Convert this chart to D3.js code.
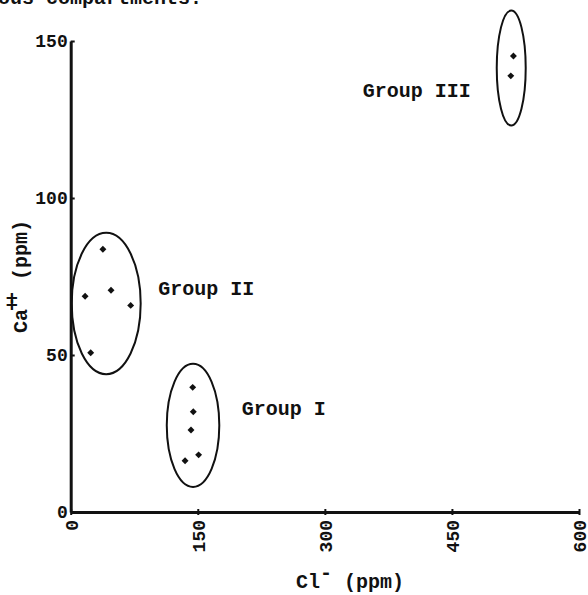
<!DOCTYPE html>
<html>
<head>
<meta charset="utf-8">
<script src="https://cdnjs.cloudflare.com/ajax/libs/d3/7.8.5/d3.min.js"></script>
<style>
  html, body { margin: 0; padding: 0; background: #fff; }
  svg { display: block; }
  text { font-family: "Liberation Mono", "Courier New", monospace; fill: #111; }
</style>
</head>
<body>
<svg id="chart" width="588" height="595"></svg>
<script>
// Chloride vs calcium concentrations, grouped by compartment
const groupNames = ["Group I", "Group II", "Group III"];

// Cl- (ppm) per sample, by group
const clGroupI   = [144, 144.7, 142, 151, 135];
const clGroupII  = [38, 17, 47.6, 70.8, 23.6];
const clGroupIII = [522.6, 519.5];

// Ca++ (ppm) per sample, by group
const caGroupI   = [39.7, 31.9, 26.1, 18.2, 16.3];
const caGroupII  = [83.7, 68.7, 70.6, 65.8, 50.7];
const caGroupIII = [145.2, 138.9];

// Grouping ellipses in data units: centre and half-extents
const ellipseCx = [144.4, 41.9, 520];
const ellipseCy = [27.6, 66.4, 141.4];
const ellipseRx = [31, 40.7, 17.1];
const ellipseRy = [19.6, 22.5, 18.3];

// Group label anchors in data units
const labelX = [202, 103.3, 344.7];
const labelY = [30.9, 69.1, 132.2];

// Axis ticks
const xTicks = [0, 150, 300, 450, 600];
const yTicks = [0, 50, 100, 150];

const svg = d3.select("#chart");

const x = d3.scaleLinear().domain([0, 600]).range([70.7, 579]);
const y = d3.scaleLinear().domain([0, 150]).range([512, 41]);

// Running text of the page above the figure (cut at the top edge)
svg.append("text")
  .attr("x", -2).attr("y", 4)
  .style("font-size", "20px").style("font-weight", "bold")
  .text("ous compartments.");

// Points
const samples = [];
[[clGroupI, caGroupI], [clGroupII, caGroupII], [clGroupIII, caGroupIII]].forEach(([xs, ys], g) => {
  xs.forEach((v, i) => samples.push({ group: g, cl: v, ca: ys[i] }));
});

const diamond = d3.symbol().type(d3.symbolSquare).size(24);
svg.append("g").selectAll("path")
  .data(samples)
  .join("path")
  .attr("d", diamond)
  .attr("transform", d => `translate(${x(d.cl)},${y(d.ca)}) rotate(45)`)
  .attr("fill", "#111");

// Ellipses around each group
svg.append("g").selectAll("ellipse")
  .data(groupNames.map((n, i) => i))
  .join("ellipse")
  .attr("cx", i => x(ellipseCx[i]))
  .attr("cy", i => y(ellipseCy[i]))
  .attr("rx", i => x(ellipseRx[i]) - x(0))
  .attr("ry", i => y(0) - y(ellipseRy[i]))
  .attr("fill", "none")
  .attr("stroke", "#111")
  .attr("stroke-width", 2);

// Group labels
svg.append("g").selectAll("text")
  .data(groupNames)
  .join("text")
  .attr("x", (d, i) => x(labelX[i]))
  .attr("y", (d, i) => y(labelY[i]))
  .style("font-size", "20px")
  .style("font-weight", "bold")
  .text(d => d);

// X axis
const xAxis = svg.append("g")
  .attr("transform", `translate(0,${y(0)})`)
  .call(d3.axisBottom(x).tickValues(xTicks).tickFormat(d3.format("d"))
    .tickSizeInner(3).tickSizeOuter(0));
xAxis.select(".domain").attr("stroke", "#111").attr("stroke-width", 3);
xAxis.selectAll(".tick line").attr("stroke", "#111").attr("stroke-width", 2)
  .attr("y1", -3);
xAxis.selectAll(".tick text")
  .attr("transform", "rotate(-90)")
  .attr("x", -8).attr("y", 0).attr("dy", "0.35em")
  .attr("text-anchor", "end")
  .style("font-family", "Liberation Mono, monospace")
  .style("font-size", "18px").style("font-weight", "bold")
  .attr("fill", "#111");

// Y axis
const yAxis = svg.append("g")
  .attr("transform", `translate(${x(0)},0)`)
  .call(d3.axisLeft(y).tickValues(yTicks).tickFormat(d3.format("d"))
    .tickSizeInner(-4).tickSizeOuter(0).tickPadding(3));
yAxis.select(".domain").attr("stroke", "#111").attr("stroke-width", 3);
yAxis.selectAll(".tick line").attr("stroke", "#111").attr("stroke-width", 2);
yAxis.selectAll(".tick text")
  .style("font-family", "Liberation Mono, monospace")
  .style("font-size", "18px").style("font-weight", "bold")
  .attr("fill", "#111");

// Axis titles
const xTitle = svg.append("text")
  .attr("x", 296).attr("y", 588)
  .style("font-size", "20px").style("font-weight", "bold");
xTitle.append("tspan").text("Cl");
xTitle.append("tspan").attr("dy", -9).text("-");
xTitle.append("tspan").attr("dy", 9).text(" (ppm)");

const yTitle = svg.append("text")
  .attr("transform", "translate(27,333) rotate(-90)")
  .style("font-size", "20px").style("font-weight", "bold");
yTitle.append("tspan").text("Ca");
yTitle.append("tspan").attr("dy", -8).attr("dx", -2).style("letter-spacing", "-5px").text("++");
yTitle.append("tspan").attr("dy", 8).attr("dx", 5).text(" (ppm)");
</script>
</body>
</html>
